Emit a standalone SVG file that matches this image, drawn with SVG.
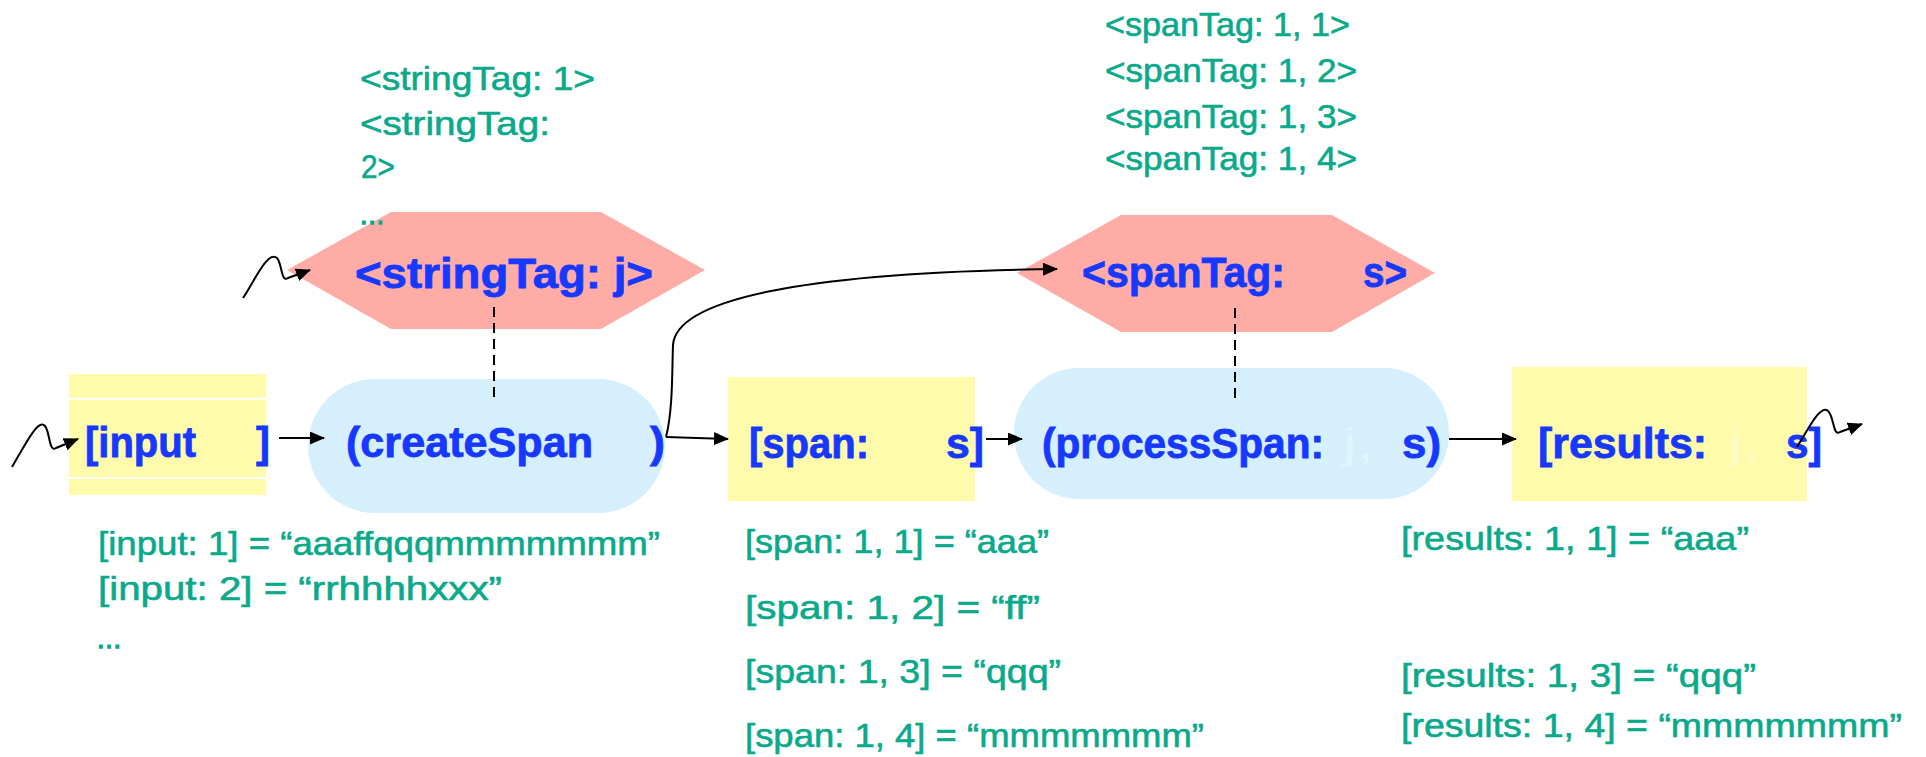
<svg xmlns="http://www.w3.org/2000/svg" width="1926" height="757" viewBox="0 0 1926 757">
  <style>
    .place { fill: #fffbaa; }
    .trans { fill: #d6effd; }
    .tag { fill: #ffaca7; }
    .lbl { font-family: 'Comic Sans MS', 'Liberation Sans', sans-serif; font-weight: bold; font-size: 42px; fill: #1638ff; stroke: #1638ff; stroke-width: 0.8; }
    .ghost { font-family: 'Comic Sans MS', 'Liberation Sans', sans-serif; font-size: 42px; fill: #ffffff; fill-opacity: 0.3; }
    .val { font-family: 'Comic Sans MS', 'Liberation Sans', sans-serif; font-size: 34px; fill: #0aa98a; stroke: #0aa98a; stroke-width: 0.6; }
    .dots { font-size: 26px; stroke-width: 1.4; }
    .edge { fill: none; stroke: #000; stroke-width: 2; }
    .link { fill: none; stroke: #000; stroke-width: 2; stroke-dasharray: 10 6; }
  </style>
  <defs>
    <marker id="arrow" viewBox="0 0 15 13" refX="14" refY="6.5" markerWidth="15" markerHeight="13" markerUnits="userSpaceOnUse" orient="auto">
      <path d="M0,0 L15,6.5 L0,13 z" fill="#000"/>
    </marker>
  </defs>

  <rect width="1926" height="757" fill="#ffffff"/>

  <!-- tag places -->
  <g id="node-stringTag">
    <polygon class="tag" points="287,270 391,212 601,212 705,270 601,329 391,329"/>
    <text class="lbl" x="355" y="288" textLength="298" lengthAdjust="spacingAndGlyphs">&lt;stringTag: j&gt;</text>
  </g>
  <g id="node-spanTag">
    <polygon class="tag" points="1017,273 1121,215 1332,215 1435,273 1332,332 1121,332"/>
    <text class="lbl" x="1082" y="287" textLength="203" lengthAdjust="spacingAndGlyphs">&lt;spanTag:</text>
    <text class="lbl" x="1363" y="287" textLength="44" lengthAdjust="spacingAndGlyphs">s&gt;</text>
  </g>

  <!-- data places and transitions -->
  <g id="node-input">
    <rect class="place" x="69" y="374" width="197" height="121"/>
    <rect x="69" y="398" width="197" height="2" fill="#ffffff"/>
    <rect x="69" y="477" width="197" height="2" fill="#ffffff"/>
    <text class="lbl" x="85" y="457" textLength="111" lengthAdjust="spacingAndGlyphs">[input</text>
    <text class="lbl" x="256" y="457" textLength="14" lengthAdjust="spacingAndGlyphs">]</text>
  </g>
  <g id="node-createSpan">
    <rect class="trans" x="308" y="379" width="357" height="134" rx="67" ry="67"/>
    <text class="lbl" x="346" y="457" textLength="247" lengthAdjust="spacingAndGlyphs">(createSpan</text>
    <text class="lbl" x="650" y="457" textLength="15" lengthAdjust="spacingAndGlyphs">)</text>
  </g>
  <g id="node-span">
    <rect class="place" x="728" y="377" width="247" height="124"/>
    <text class="lbl" x="749" y="458" textLength="120" lengthAdjust="spacingAndGlyphs">[span:</text>
    <text class="lbl" x="946" y="458" textLength="38" lengthAdjust="spacingAndGlyphs">s]</text>
  </g>
  <g id="node-processSpan">
    <rect class="trans" x="1014" y="368" width="435" height="131" rx="65" ry="65"/>
    <text class="lbl" x="1042" y="458" textLength="282" lengthAdjust="spacingAndGlyphs">(processSpan:</text>
    <text class="ghost" x="1343" y="458" textLength="31" lengthAdjust="spacingAndGlyphs">j,</text>
    <text class="lbl" x="1402" y="458" textLength="39" lengthAdjust="spacingAndGlyphs">s)</text>
  </g>
  <g id="node-results">
    <rect class="place" x="1512" y="367" width="295" height="134"/>
    <text class="lbl" x="1538" y="458" textLength="169" lengthAdjust="spacingAndGlyphs">[results:</text>
    <text class="ghost" x="1728" y="458" textLength="34" lengthAdjust="spacingAndGlyphs">j,</text>
    <text class="lbl" x="1786" y="458" textLength="36" lengthAdjust="spacingAndGlyphs">s]</text>
  </g>

  <!-- token values -->
  <g id="values-stringTag">
    <text class="val" x="360" y="90" textLength="235" lengthAdjust="spacingAndGlyphs">&lt;stringTag: 1&gt;</text>
    <text class="val" x="360" y="135" textLength="190" lengthAdjust="spacingAndGlyphs">&lt;stringTag:</text>
    <text class="val" x="361" y="178" textLength="34" lengthAdjust="spacingAndGlyphs">2&gt;</text>
    <text class="val dots" x="359" y="224">…</text>
  </g>
  <g id="values-spanTag">
    <text class="val" x="1105" y="36" textLength="245" lengthAdjust="spacingAndGlyphs">&lt;spanTag: 1, 1&gt;</text>
    <text class="val" x="1105" y="82" textLength="252" lengthAdjust="spacingAndGlyphs">&lt;spanTag: 1, 2&gt;</text>
    <text class="val" x="1105" y="128" textLength="252" lengthAdjust="spacingAndGlyphs">&lt;spanTag: 1, 3&gt;</text>
    <text class="val" x="1105" y="170" textLength="252" lengthAdjust="spacingAndGlyphs">&lt;spanTag: 1, 4&gt;</text>
  </g>
  <g id="values-input">
    <text class="val" x="98" y="555" textLength="562" lengthAdjust="spacingAndGlyphs">[input: 1] = “aaaffqqqmmmmmmm”</text>
    <text class="val" x="98" y="600" textLength="404" lengthAdjust="spacingAndGlyphs">[input: 2] = “rrhhhhxxx”</text>
    <text class="val dots" x="96" y="648">…</text>
  </g>
  <g id="values-span">
    <text class="val" x="745" y="553" textLength="304" lengthAdjust="spacingAndGlyphs">[span: 1, 1] = “aaa”</text>
    <text class="val" x="745" y="619" textLength="295" lengthAdjust="spacingAndGlyphs">[span: 1, 2] = “ff”</text>
    <text class="val" x="745" y="683" textLength="316" lengthAdjust="spacingAndGlyphs">[span: 1, 3] = “qqq”</text>
    <text class="val" x="745" y="747" textLength="459" lengthAdjust="spacingAndGlyphs">[span: 1, 4] = “mmmmmmm”</text>
  </g>
  <g id="values-results">
    <text class="val" x="1401" y="550" textLength="348" lengthAdjust="spacingAndGlyphs">[results: 1, 1] = “aaa”</text>
    <text class="val" x="1401" y="687" textLength="355" lengthAdjust="spacingAndGlyphs">[results: 1, 3] = “qqq”</text>
    <text class="val" x="1401" y="737" textLength="501" lengthAdjust="spacingAndGlyphs">[results: 1, 4] = “mmmmmmm”</text>
  </g>

  <!-- arcs -->
  <g id="connectors">
    <path class="edge" marker-end="url(#arrow)" d="M12,467 C25,445 38,418 45,426 C50,432 49,453 56,448 L78,439"/>
    <path class="edge" marker-end="url(#arrow)" d="M243,298 C255,280 268,250 277,258 C282,263 281,283 288,278 L310,270"/>
    <path class="edge" marker-end="url(#arrow)" d="M279,438 L324,438"/>
    <path class="edge" marker-end="url(#arrow)" d="M666,437 C673,410 672,370 673,345 C676,300 800,272 1057,269"/>
    <path class="edge" marker-end="url(#arrow)" d="M666,437 L728,439"/>
    <path class="edge" marker-end="url(#arrow)" d="M986,439 L1022,439"/>
    <path class="edge" marker-end="url(#arrow)" d="M1449,439 L1516,439"/>
    <path class="edge" marker-end="url(#arrow)" d="M1797,447 C1808,430 1820,404 1828,411 C1834,416 1833,437 1840,432 L1862,424"/>
    <line class="link" x1="494" y1="307" x2="494" y2="398"/>
    <line class="link" x1="1235" y1="308" x2="1235" y2="399"/>
  </g>
</svg>
